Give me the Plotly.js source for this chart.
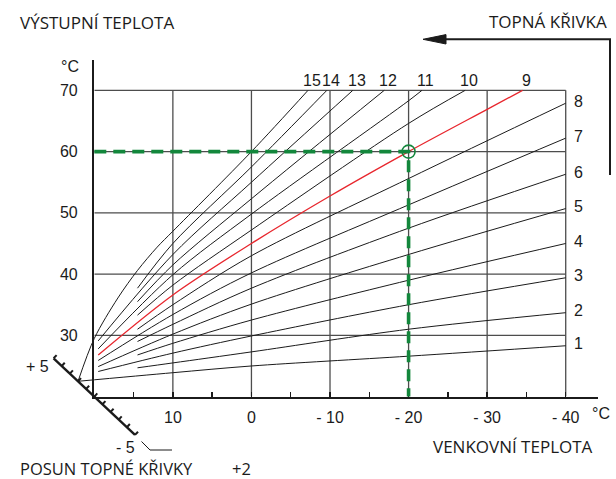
<!DOCTYPE html>
<html><head><meta charset="utf-8">
<script src="https://cdn.plot.ly/plotly-3.0.1.min.js"></script>
<style>html,body{margin:0;padding:0;background:#fff}</style>
</head><body><div id="chart" style="width:616px;height:479px"></div>
<script>
// ---------- data ----------
const curveNames = ['1','2','3','4','5','6','7','8','9','10','11','12','13','14','15'];
const curveOutdoor = [
  [22.07, 10, 0, -20, -40],
  [14.5, 10, 0, -20, -40],
  [19.5, 10, 0, -20, -40],
  [14.5, 10, 0, -20, -40],
  [19.5, 10, 0, -20, -40],
  [14.5, 10, 0, -20, -40],
  [19.5, 10, 0, -20, -40],
  [14.5, 10, 0, -20, -40],
  [19.5, 10, 0, -10, -20, -30, -34.5],
  [14.5, 10, 0, -20, -27.2],
  [19.5, 10, 0, -20, -21.7],
  [14.5, 10, 0, -16.9],
  [19.5, 10, 0, -12.9],
  [14.5, 10, 0, -9.6],
  [22.07, 20, 17, 14.5, 12, 10, 0, -7.2]
];
const curveFlow = [
  [22.5, 23.9, 25.0, 26.6, 28.3],
  [24.7, 25.5, 27.3, 31.0, 33.7],
  [24.1, 27.1, 29.9, 35.0, 39.4],
  [26.8, 28.7, 32.5, 39.0, 45.0],
  [24.9, 30.2, 35.1, 43.2, 50.7],
  [29.0, 31.8, 37.7, 47.5, 56.3],
  [25.9, 33.4, 40.2, 51.3, 62.2],
  [31.0, 35.0, 43.0, 55.6, 67.9],
  [26.8, 36.6, 45.0, 52.75, 60.0, 66.9, 70.0],
  [33.3, 38.2, 47.2, 64.6, 70.0],
  [27.8, 39.9, 49.8, 68.3, 70.0],
  [35.5, 41.5, 52.3, 70.0],
  [29.1, 43.2, 55.0, 70.0],
  [37.7, 45.0, 57.5, 70.0],
  [22.5, 29.5, 36.1, 40.6, 44.4, 47.0, 60.0, 70.0]
];
const selectedCurve = '9';
const gridOutdoor = [10, 0, -10, -20, -30, -40];
const gridFlow = [30, 40, 50, 60, 70];
const xTickVals = [10, 0, -10, -20, -30, -40];
const xTickText = ['10', '0', '- 10', '- 20', '- 30', '- 40'];
const xMinorVals = [15, 5, -5, -15, -25, -35];
const yTickVals = [30, 40, 50, 60, 70];
const yTickText = ['30', '40', '50', '60', '70'];
const designOutdoor = [-20];
const designFlow = [60];
const shiftValues = [-5, -4, -3, -2, -1, 0, 1, 2, 3, 4, 5];
const shiftEndLabels = ['- 5', '+ 5'];
const shiftSelectedLabel = '+2';

// ---------- layout geometry ----------
const W = 616, H = 479;
const X0 = 94.3, Y0 = 396.6;      // pixel of (20 °C, 20 °C)
const KX = 7.857, KY = 6.125;     // px per degree
const XMIN = 20, XMAX = -44.1, YMIN = 20, YMAX = 75;
const PX = p => p / W, PY = p => 1 - p / H;
const xA = [PX(X0), PX(X0 + (XMIN - XMAX) * KX)];
const yA = [PY(Y0), PY(Y0 - (YMAX - YMIN) * KY)];
const xRangeB = [20 + X0 / KX, 20 - (W - X0) / KX];
const yRangeB = [20 - (H - Y0) / KY, 20 + Y0 / KY];

const BLACK = '#1b1b1b', GRID = '#4d4d4d', RED = '#e8262d', GREEN = '#13873c';
const NUMFONT = 'Liberation Sans, Arial, sans-serif';
const TXTFONT = 'Open Sans, sans-serif';

const traces = [];
// grid (subplot A)
const gx = [], gy = [];
gridOutdoor.forEach(v => { gx.push(v, v, null); gy.push(20, 70, null); });
gridFlow.forEach(v => { gx.push(20, -40, null); gy.push(v, v, null); });
traces.push({x: gx, y: gy, mode: 'lines', line: {color: GRID, width: 1.3},
  xaxis: 'x', yaxis: 'y', hoverinfo: 'skip', showlegend: false});

// heating curves (subplot B, same scale, not clipped to the box)
curveNames.forEach((n, i) => {
  traces.push({x: curveOutdoor[i], y: curveFlow[i], mode: 'lines', name: n,
    line: {color: n === selectedCurve ? RED : BLACK, width: n === selectedCurve ? 1.3 : 1,
           shape: 'spline', smoothing: 0.9},
    xaxis: 'x2', yaxis: 'y2', showlegend: false, hoverinfo: 'skip'});
});

// design point dashed guides
traces.push({x: [20, designOutdoor[0], designOutdoor[0]], y: [designFlow[0], designFlow[0], 20],
  mode: 'lines', line: {color: GREEN, width: 3.6, dash: '12px,7px'},
  xaxis: 'x2', yaxis: 'y2', showlegend: false, hoverinfo: 'skip'});
traces.push({x: designOutdoor, y: designFlow, mode: 'markers',
  marker: {symbol: 'circle-open', size: 13, color: GREEN, line: {width: 1.6, color: GREEN}},
  xaxis: 'x2', yaxis: 'y2', showlegend: false, hoverinfo: 'skip'});

// curve shift scale (oblique)
const SX = 40.7 / 5 / KX, SY = 38.3 / 5 / KY;
const TX = -3.0 / KX, TY = 3.2 / KY;
const sx = shiftValues.map(v => 20 + v * SX), sy = shiftValues.map(v => 20 + v * SY);
traces.push({x: [sx[0], sx[sx.length - 1]], y: [sy[0], sy[sy.length - 1]], mode: 'lines',
  line: {color: BLACK, width: 2.4}, xaxis: 'x2', yaxis: 'y2', showlegend: false, hoverinfo: 'skip'});
const tx = [], ty = [];
shiftValues.forEach((v, i) => { tx.push(sx[i], sx[i] + TX, null); ty.push(sy[i], sy[i] + TY, null); });
traces.push({x: tx, y: ty, mode: 'lines', line: {color: BLACK, width: 2},
  xaxis: 'x2', yaxis: 'y2', showlegend: false, hoverinfo: 'skip'});

// ---------- annotations ----------
const ann = [];
const txt = (text, x, y, xanchor, font, size) => ann.push({text, x: PX(x), y: PY(y), xref: 'paper', yref: 'paper',
  xanchor, yanchor: 'middle', showarrow: false, borderpad: 0, font: {family: font, size, color: BLACK}});
txt('VÝSTUPNÍ TEPLOTA', 19, 22.7, 'left', TXTFONT, 17);
txt('TOPNÁ KŘIVKA', 608, 21.7, 'right', TXTFONT, 17);
txt('°C', 70, 66.5, 'center', NUMFONT, 16);
txt('°C', 601, 413, 'center', NUMFONT, 16);
txt('VENKOVNÍ TEPLOTA', 432, 446.7, 'left', TXTFONT, 17);
txt('POSUN TOPNÉ KŘIVKY', 19, 468.3, 'left', TXTFONT, 16.5);
txt(shiftSelectedLabel, 241, 468.3, 'center', TXTFONT, 16.5);
txt(shiftEndLabels[1], 37, 366, 'center', NUMFONT, 16);
txt(shiftEndLabels[0], 125, 447, 'center', NUMFONT, 16);

curveNames.forEach((n, i) => {
  const xs = curveOutdoor[i], ys = curveFlow[i];
  const xe = xs[xs.length - 1], ye = ys[ys.length - 1];
  if (xe === -40) {
    ann.push({text: n, x: xe, y: ye, xref: 'x2', yref: 'y2', xanchor: 'left', yanchor: 'middle',
      xshift: 6, yshift: 2, showarrow: false, font: {family: NUMFONT, size: 16, color: BLACK}});
  } else {
    ann.push({text: n, x: xe, y: ye, xref: 'x2', yref: 'y2', xanchor: 'center', yanchor: 'middle',
      xshift: 4, yshift: 10, showarrow: false, font: {family: NUMFONT, size: 16, color: BLACK}});
  }
});

// ---------- decorative shapes (arrow, leader) ----------
const P = (x, y) => PX(x).toFixed(5) + ',' + PY(y).toFixed(5);
const shapes = [
  {type: 'path', xref: 'paper', yref: 'paper', path: 'M' + P(610, 175) + ' L' + P(610, 39.3) + ' L' + P(440, 39.3),
   line: {color: BLACK, width: 2}},
  {type: 'path', xref: 'paper', yref: 'paper', path: 'M' + P(423, 39.3) + ' L' + P(446, 34.6) + ' L' + P(446, 44) + ' Z',
   fillcolor: BLACK, line: {color: BLACK, width: 1}},
  {type: 'path', xref: 'paper', yref: 'paper', path: 'M' + P(141.5, 441.5) + ' L' + P(150, 450) + ' L' + P(172, 450),
   line: {color: BLACK, width: 1}}
];

const layout = {
  width: W, height: H, autosize: false,
  margin: {l: 0, r: 0, t: 0, b: 0, pad: 0},
  paper_bgcolor: '#ffffff', plot_bgcolor: 'rgba(0,0,0,0)',
  showlegend: false,
  xaxis: {domain: xA, range: [XMIN, XMAX], anchor: 'y', showgrid: false, zeroline: false,
    showline: true, linecolor: BLACK, linewidth: 2.4,
    tickmode: 'array', tickvals: xTickVals, ticktext: xTickText,
    ticks: 'inside', ticklen: 5, tickwidth: 1.5, tickcolor: BLACK,
    minor: {tickmode: 'array', tickvals: xMinorVals, ticks: 'inside', ticklen: 5, tickwidth: 1.5, tickcolor: BLACK},
    ticklabelstandoff: 5,
    tickfont: {family: NUMFONT, size: 16, color: BLACK}, fixedrange: true},
  yaxis: {domain: yA, range: [YMIN, YMAX], anchor: 'x', showgrid: false, zeroline: false,
    showline: true, linecolor: BLACK, linewidth: 2.4,
    tickmode: 'array', tickvals: yTickVals, ticktext: yTickText, ticks: '',
    ticklabelstandoff: 11,
    tickfont: {family: NUMFONT, size: 16, color: BLACK}, fixedrange: true},
  xaxis2: {domain: [0, 1], range: xRangeB, anchor: 'y2', visible: false, fixedrange: true},
  yaxis2: {domain: [0, 1], range: yRangeB, anchor: 'x2', visible: false, fixedrange: true},
  annotations: ann,
  shapes: shapes
};

Plotly.newPlot('chart', traces, layout, {displayModeBar: false, staticPlot: true});
</script>
</body></html>
